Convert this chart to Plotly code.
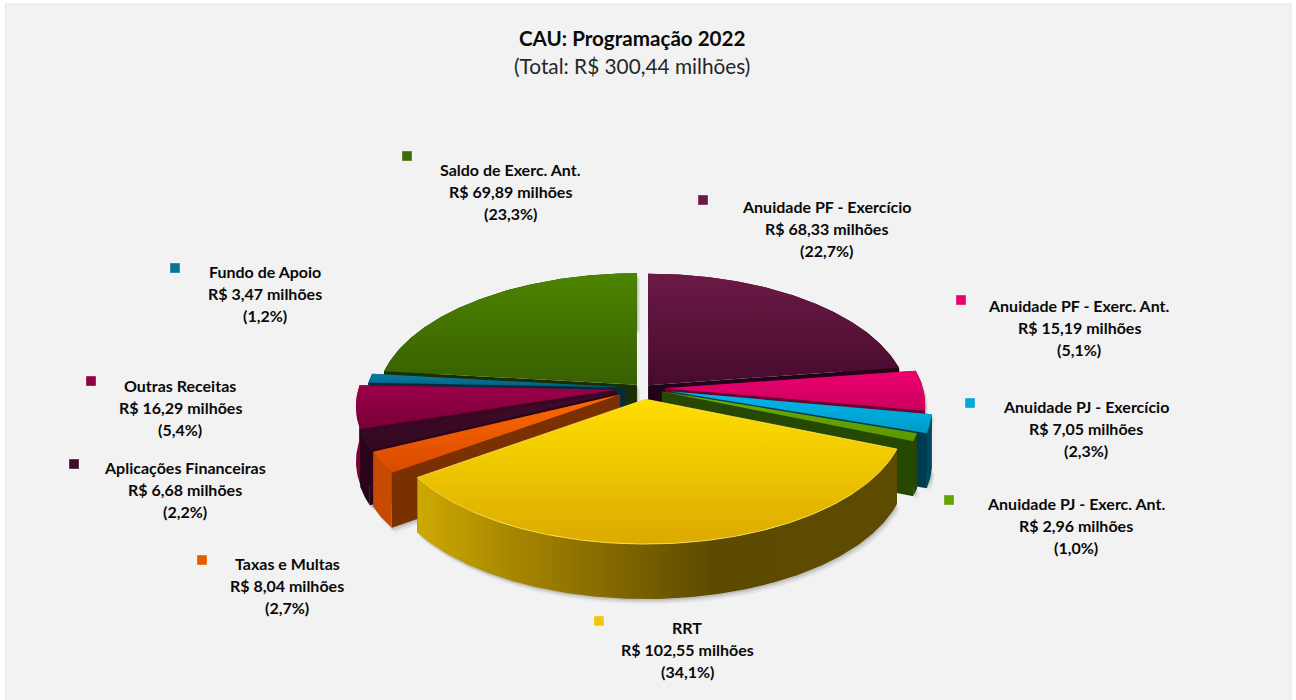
import numpy as np
import plotly.graph_objects as go

# ---- data ----
categories = ["Anuidade PF - Exercício", "Anuidade PF - Exerc. Ant.", "Anuidade PJ - Exercício",
              "Anuidade PJ - Exerc. Ant.", "RRT", "Taxas e Multas", "Aplicações Financeiras",
              "Outras Receitas", "Fundo de Apoio", "Saldo de Exerc. Ant."]
values = [68.33, 15.19, 7.05, 2.96, 102.55, 8.04, 6.68, 16.29, 3.47, 69.89]
total = 300.44
title_main = "CAU: Programação 2022"
title_sub = "(Total: R$ 300,44 milhões)"

# ---- styles ----
pull = [.03, .085, .115, .078, .09, .103, .11, .105, .07, .035]
top_colors = [("#6b1a45", "#470b2e"), ("#ec006f", "#cc005e"), ("#00b6ee", "#009cc8"), ("#6cae00", "#5a9800"),
              ("#ffde00", "#dcaa00"), ("#ff6a00", "#d84a00"), ("#3f0b2a", "#33081f"), ("#9c004a", "#780036"),
              ("#0a7ca6", "#006080"), ("#4c8400", "#386000")]
wall_colors = ["#26041a", "#6b0030", "#004a60", "#254500", "#5c4a00", "#c84a00", "#2a0418", "#7a0038", "#003040", "#1c3000"]
face_colors = ["#22031a", "#6b0030", "#003c50", "#264800", "#5c4a00", "#7a3000", "#2a0418", "#3a0622", "#002c3c", "#1a2e00"]
key_colors = ["#6b1a45", "#e8006e", "#00a8dc", "#62a400", "#f0c800", "#e85a00", "#3f0b2a", "#900044", "#0a7498", "#3f6c00"]
label_x = [826, 1079, 1086, 1076, 687, 287, 185, 180, 265, 510]
label_y = [228.5, 327.5, 428.5, 525.5, 649.5, 585.5, 489.5, 407.5, 293.5, 191.5]
key_x = [703, 961, 970, 949, 599, 202, 74, 91, 175, 407]
key_y = [200, 300, 403, 500, 621, 560, 464, 381, 268, 156]
paint_order = [9, 0, 8, 7, 1, 2, 6, 3, 5, 4]

CX, CY, R, RY, K, DEPTH = 643, 388, 258, 126, 0.13, 55
LINE_GAP = 22


def rim(theta, ox, oy, drop=0.0):
    u, v = np.sin(theta), np.cos(theta)
    w = 1 + K * v
    return ox + R * u / w, oy - RY * v / w + drop


fig = go.Figure()


def poly(xs, ys, color=None, grad=None, line=None):
    tr = dict(x=list(xs), y=list(ys), mode="lines", fill="toself", hoverinfo="skip", showlegend=False,
              line=dict(width=line[1] if line else 0, color=line[0] if line else "rgba(0,0,0,0)"))
    if grad:
        tr["fillgradient"] = dict(type=grad[0], colorscale=grad[1])
    else:
        tr["fillcolor"] = color
    fig.add_trace(go.Scatter(**tr))


vals = np.array(values)
edges = np.concatenate([[0], np.cumsum(vals)]) / vals.sum() * 2 * np.pi


def geometry(i):
    a0, a1 = edges[i], edges[i + 1]
    mid = (a0 + a1) / 2
    ox = CX + pull[i] * R * np.sin(mid)
    oy = CY - pull[i] * RY * np.cos(mid)
    th = np.linspace(a0, a1, max(6, int((a1 - a0) * 90)))
    return ox, oy, th


# soft shadows below the whole pie
for off, alpha in ((5, .07), (3, .10), (1.5, .12)):
    for i in paint_order:
        ox, oy, th = geometry(i)
        tx, ty = rim(th, ox, oy)
        bx, by = rim(th, ox, oy, DEPTH)
        px = np.concatenate([[ox], tx, bx[::-1], [ox]]) + off * .6
        py = np.concatenate([[oy], ty, by[::-1], [oy + DEPTH]]) + off
        poly(px, py, f"rgba(60,60,60,{alpha})")

for i in paint_order:
    ox, oy, th = geometry(i)
    tx, ty = rim(th, ox, oy)
    bx, by = rim(th, ox, oy, DEPTH)
    # radial cut faces
    for j in (0, -1):
        poly([ox, tx[j], bx[j], ox], [oy, ty[j], by[j], oy + DEPTH], face_colors[i])
    # outer wall
    wx = np.concatenate([tx, bx[::-1]])
    wy = np.concatenate([ty, by[::-1]])
    if i == 4:
        poly(wx, wy, grad=("horizontal", [[0, "#cdaa00"], [.2, "#a88600"], [.42, "#806600"], [.62, "#5c4a00"], [1, "#5c4c00"]]))
    else:
        poly(wx, wy, wall_colors[i])
    # top (colour scale runs from the bottom of the slice upward on this inverted axis)
    sx = np.concatenate([[ox], tx, [ox]])
    sy = np.concatenate([[oy], ty, [oy]])
    poly(sx, sy, grad=("vertical", [[0, top_colors[i][1]], [1, top_colors[i][0]]]),
         line=("rgba(255,235,90,.75)", 1) if i == 4 else None)

# legend keys
fig.add_trace(go.Scatter(x=key_x, y=key_y, mode="markers", hoverinfo="skip", showlegend=False,
                         marker=dict(symbol="square", size=10, color=key_colors,
                                     line=dict(width=1, color="rgba(255,255,255,.35)"))))


def br(v):
    return f"{v:.2f}".replace(".", ",")


for name, v, x, y in zip(categories, values, label_x, label_y):
    pct = f"{v / total * 100:.1f}".replace(".", ",")
    lines = [name, f"R$ {br(v)} milhões", f"({pct}%)"]
    for k, line in enumerate(lines):
        fig.add_annotation(x=x, y=y + (k - 1) * LINE_GAP, xref="x", yref="y", showarrow=False, align="center",
                           text=f"<b>{line}</b>", font=dict(family="Lato", size=16, color="#0a0a0a"))

fig.add_annotation(x=632, y=38, xref="x", yref="y", showarrow=False, text=f"<b>{title_main}</b>",
                   font=dict(family="Lato", size=20.6, color="#0a0a0a"))
fig.add_annotation(x=632, y=65.5, xref="x", yref="y", showarrow=False, text=title_sub,
                   font=dict(family="Lato", size=20.8, color="#262626"))

fig.update_layout(
    width=1296, height=700, margin=dict(l=0, r=0, t=0, b=0), paper_bgcolor="#ffffff", plot_bgcolor="#ffffff",
    xaxis=dict(range=[0, 1296], visible=False, fixedrange=True),
    yaxis=dict(range=[700, 0], visible=False, fixedrange=True),
    shapes=[dict(type="rect", layer="below", xref="x", yref="y", x0=5.5, y0=4, x1=1291, y1=702,
                 fillcolor="#f2f2f2", line=dict(color="#e2e6ea", width=1))],
)
fig.write_html("out.html", config=dict(displayModeBar=False), post_script="document.body.style.margin='0';")
